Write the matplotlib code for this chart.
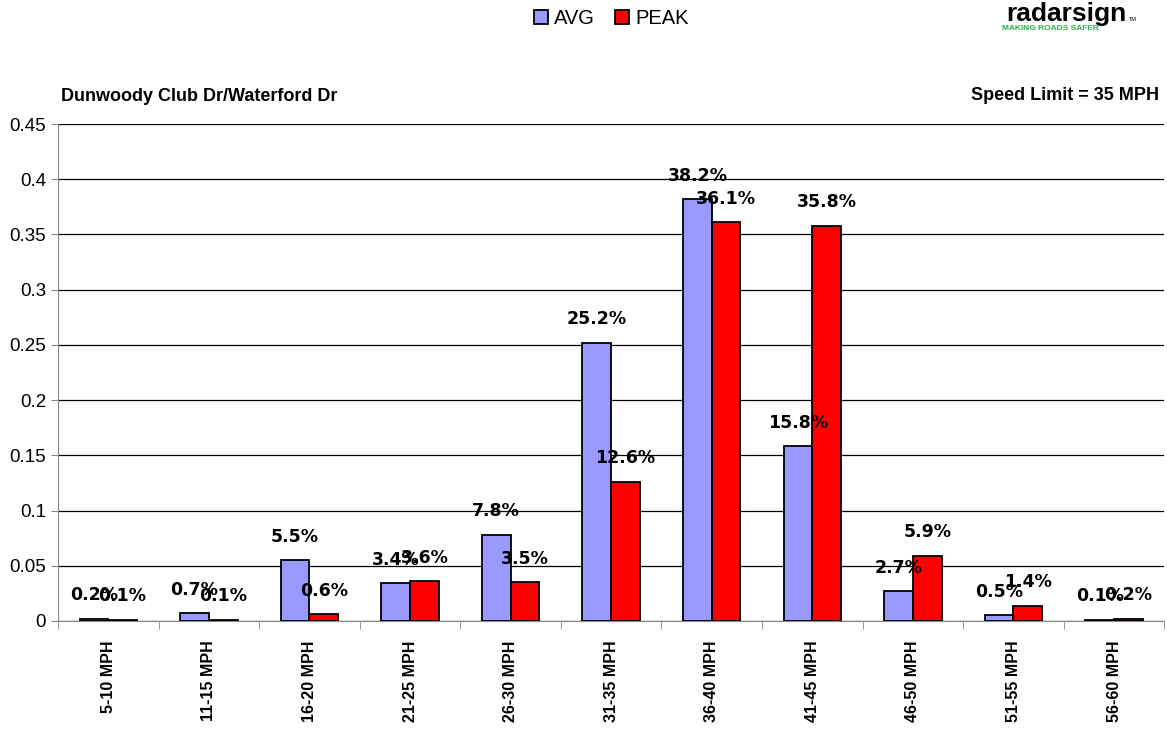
import numpy as np
import matplotlib
matplotlib.use('Agg')
import matplotlib.pyplot as plt

plt.rcParams['font.family'] = ['Liberation Sans', 'DejaVu Sans']

# Datos del gráfico
categorias = ['5-10 MPH', '11-15 MPH', '16-20 MPH', '21-25 MPH', '26-30 MPH', '31-35 MPH',
              '36-40 MPH', '41-45 MPH', '46-50 MPH', '51-55 MPH', '56-60 MPH']
avg = [0.002, 0.007, 0.055, 0.034, 0.078, 0.252, 0.382, 0.158, 0.027, 0.005, 0.001]
peak = [0.001, 0.001, 0.006, 0.036, 0.035, 0.126, 0.361, 0.358, 0.059, 0.014, 0.002]
yticks = [0, 0.05, 0.1, 0.15, 0.2, 0.25, 0.3, 0.35, 0.4, 0.45]
ytick_labels = ['0', '0.05', '0.1', '0.15', '0.2', '0.25', '0.3', '0.35', '0.4', '0.45']

fig = plt.figure(figsize=(11.67, 7.34), dpi=100)
ax = fig.add_axes([0.0497, 0.154, 0.948, 0.677])

x = np.arange(len(categorias))
ancho = 0.285
b1 = ax.bar(x - ancho / 2, avg, ancho, color='#9999ff', edgecolor='black', linewidth=1.3, label='AVG', zorder=3)
b2 = ax.bar(x + ancho / 2, peak, ancho, color='#ff0000', edgecolor='black', linewidth=1.3, label='PEAK', zorder=3)

# Etiquetas sobre cada barra
for barras in (b1, b2):
    for b in barras:
        v = b.get_height()
        ax.annotate(f'{v * 100:.1f}%', (b.get_x() + b.get_width() / 2, v),
                    xytext=(0, 17), textcoords='offset points', ha='center', va='center',
                    fontsize=12.5, fontweight='bold', family='DejaVu Sans', zorder=5)

ax.set_xlim(-0.5, len(categorias) - 0.5)
ax.set_ylim(0, 0.45)
ax.set_yticks(yticks)
ax.set_yticklabels(ytick_labels, fontsize=13.5)
ax.yaxis.grid(True, color='black', linewidth=0.9)
ax.set_axisbelow(True)

ax.set_xticks(x)
ax.set_xticklabels(categorias, rotation=90, fontsize=11.5, fontweight='bold')
ax.set_xticks(np.arange(len(categorias) + 1) - 0.5, minor=True)
ax.tick_params(axis='x', which='major', length=0, pad=14)
ax.tick_params(axis='x', which='minor', length=6, color='#888888')
ax.tick_params(axis='y', length=5, color='#888888')

for s in ['top', 'right']:
    ax.spines[s].set_visible(False)
ax.spines['left'].set_color('#888888')
ax.spines['bottom'].set_color('#888888')

fig.text(0.052, 0.868, 'Dunwoody Club Dr/Waterford Dr', fontsize=13, fontweight='bold', va='center')
fig.text(0.993, 0.870, 'Speed Limit = 35 MPH', fontsize=13, fontweight='bold', va='center', ha='right')

fig.legend(handles=[b1, b2], labels=['AVG', 'PEAK'], loc='center', bbox_to_anchor=(0.524, 0.975),
           ncol=2, frameon=False, fontsize=14.5, handlelength=0.7, handleheight=0.7,
           handletextpad=0.3, columnspacing=1.0)

# Logo
fig.text(0.9135, 0.972, 'radarsign', fontsize=19, fontweight='bold', ha='center', va='baseline')
fig.text(0.967, 0.972, 'TM', fontsize=4, ha='left', va='baseline')
fig.text(0.900, 0.961, 'MAKING ROADS SAFER', fontsize=6, fontweight='bold', color='#2db04b',
         ha='center', va='center')

plt.savefig('out.png', dpi=100)
